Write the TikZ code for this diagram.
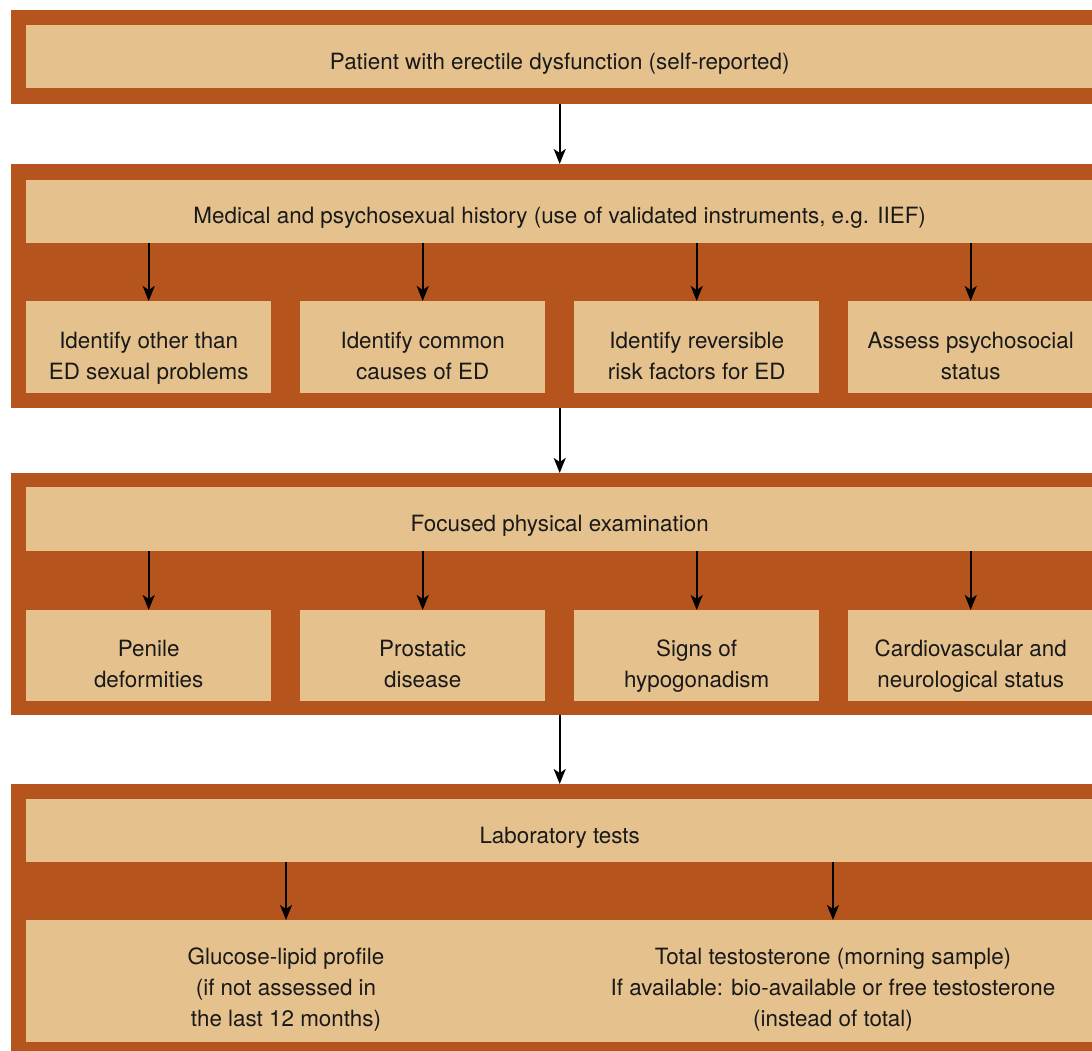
\documentclass[tikz,border=0pt]{standalone}
\usepackage{fontspec}
\setmainfont{TeX Gyre Heros}
\usetikzlibrary{arrows.meta}
\definecolor{rust}{RGB}{181,84,28}
\definecolor{sand}{RGB}{229,194,141}
\newcommand\lift[1]{\rule{0pt}{#1}}
\newcommand\sink{\rule[-6pt]{0pt}{6pt}}
\begin{document}
\begin{tikzpicture}[x=1pt, y=-1pt, font=\fontsize{22.4}{31}\selectfont, text=black!90, >={Stealth[length=15pt,width=12pt,inset=4pt]},
	band/.style={fill=rust, inner sep=0pt, anchor=north west, minimum width=1097pt},
	panel/.style={fill=sand, inner sep=0pt, anchor=north west, align=center},
	head/.style={panel, minimum width=1067pt},
	sub/.style={panel, minimum width=245pt},
	go/.style={->, line width=2pt}]
	\clip (0,0) rectangle (1092,1051);
	% the four bands
	\node[band, minimum height=94pt] (b1) at (11,10) {};
	\node[band, minimum height=244pt] (b2) at (11,164) {};
	\node[band, minimum height=242pt] (b3) at (11,473) {};
	\node[band, minimum height=273pt] (b4) at (11,784) {};
	% headers
	\node[head, minimum height=63pt] (pat) at (26,25) {\lift{30pt}Patient with erectile dysfunction (self-reported)};
	\node[head, minimum height=63pt] (hist) at (26,180) {\lift{28pt}Medical and psychosexual history (use of validated instruments, e.g. IIEF)};
	\node[head, minimum height=64pt] (exam) at (26,487) {\lift{30pt}Focused physical examination};
	\node[head, minimum height=63pt] (lab) at (26,799) {\lift{30pt}Laboratory tests};
	% history row
	\foreach \t [count=\n] in {{Identify other than\\ED sexual problems},{Identify common\\causes of ED},{Identify reversible\\risk factors for ED},{Assess psychosocial\\status}}{
		\node[sub, minimum height=92pt] (h\n) at ({26+274*(\n-1)},301) {\lift{39pt}\t\sink};
		\draw[go] (hist.south -| h\n.north) -- (h\n.north);
	}
	% examination row
	\foreach \t [count=\n] in {{Penile\\deformities},{Prostatic\\disease},{Signs of\\hypogonadism},{Cardiovascular and\\neurological status}}{
		\node[sub, minimum height=91pt] (e\n) at ({26+274*(\n-1)},610) {\lift{38pt}\t\sink};
		\draw[go] (exam.south -| e\n.north) -- (e\n.north);
	}
	% laboratory row
	\node[panel, minimum width=1067pt, minimum height=122pt] (labrow) at (26,920) {};
	\node[align=center, inner sep=0pt] (glu) at (286,982) {\lift{32pt}Glucose-lipid profile\\(if not assessed in\\the last 12 months)};
	\node[align=center, inner sep=0pt] (tes) at (833,982) {\lift{32pt}Total testosterone (morning sample)\\If available: bio-available or free testosterone\\(instead of total)};
	\draw[go] (lab.south -| glu) -- (labrow.north -| glu);
	\draw[go] (lab.south -| tes) -- (labrow.north -| tes);
	% between bands
	\draw[go] (b1.south) -- (b2.north);
	\draw[go] (b2.south) -- (b3.north);
	\draw[go] (b3.south) -- (b4.north);
\end{tikzpicture}
\end{document}
